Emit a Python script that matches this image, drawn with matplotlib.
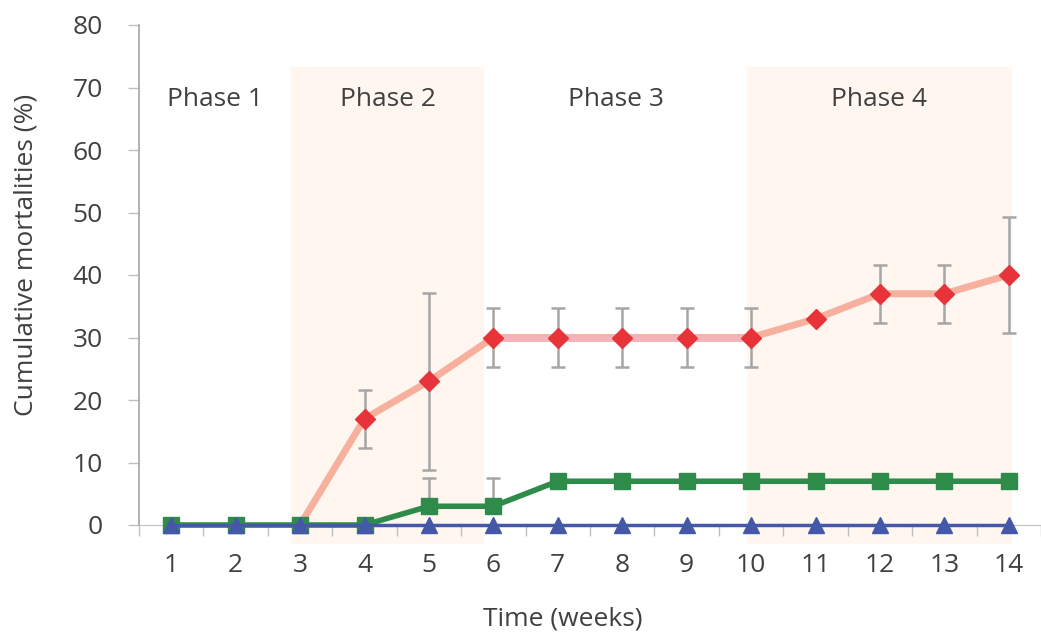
import matplotlib
matplotlib.use("Agg")
import matplotlib.pyplot as plt
import numpy as np

weeks = list(range(1, 15))
red_vals = [0, 0, 0, 17, 23, 30, 30, 30, 30, 30, 33, 37, 37, 40]
red_err = [0, 0, 0, 4.6, 14.2, 4.7, 4.7, 4.7, 4.7, 4.7, 0, 4.6, 4.6, 9.3]
green_vals = [0, 0, 0, 0, 3, 3, 7, 7, 7, 7, 7, 7, 7, 7]
green_err_up = [0, 0, 0, 0, 4.5, 4.5, 0, 0, 0, 0, 0, 0, 0, 0]
blue_vals = [0] * 14

phase_labels = ["Phase 1", "Phase 2", "Phase 3", "Phase 4"]
phase_bounds = [0.5, 2.86, 5.86, 9.93, 14.05]
phase_shaded = [False, True, False, True]
phase_top = 73.3
phase_bottom = -3.0
label_y = 68

plt.rcParams['font.family'] = ['Open Sans', 'DejaVu Sans']

fig = plt.figure(figsize=(10.41, 6.42), dpi=100)
ax = fig.add_axes([139/1041, (642-525)/642, (1041-139)/1041, 500/642])

# phase shading
for i, lab in enumerate(phase_labels):
    x0, x1 = phase_bounds[i], phase_bounds[i+1]
    if phase_shaded[i]:
        ax.fill_between([x0, x1], phase_bottom, phase_top, color='#FEF6EF',
                        zorder=0, clip_on=False, linewidth=0)
    ax.text((x0 + x1) / 2, label_y, lab, ha='center', va='center',
            fontsize=19, color='#404040', zorder=5)

ecol = '#A6A6A6'
w = np.array(weeks)
r = np.array(red_vals)
re = np.array(red_err)
mask = re > 0
ax.errorbar(w[mask], r[mask], yerr=re[mask], fmt='none', ecolor=ecol,
            elinewidth=1.8, capsize=5, capthick=1.8, zorder=2)
g = np.array(green_vals)
ge = np.array(green_err_up)
gm = ge > 0
ax.errorbar(w[gm], g[gm], yerr=[np.zeros(gm.sum()), ge[gm]], fmt='none',
            ecolor=ecol, elinewidth=1.8, capsize=5, capthick=1.8, zorder=2)

# red line (starting where it rises)
ax.plot(w[2:], r[2:], color='#F8B09E', lw=5, zorder=3, solid_capstyle='butt')
ax.plot(w[5:10], r[5:10], color='#F5B3B7', lw=5, zorder=3.1)
ax.plot(w[3:], r[3:], ls='none', marker='D', ms=10, color='#E8333A',
        mec='#E8333A', zorder=4)

# green
ax.plot(w, g, color='#2E8B4A', lw=4, marker='s', ms=11, zorder=5,
        clip_on=False)
# blue
ax.plot(w, blue_vals, color='#4558A8', lw=2.5, marker='^', ms=11, zorder=6,
        clip_on=False)

ax.set_xlim(0.5, 0.5 + 902/64.6)
ax.set_ylim(0, 80)
ax.set_xticks(weeks)
ax.set_xticks(np.arange(0.5, 15, 1), minor=True)
ax.tick_params(axis='x', which='major', length=0, pad=20, labelsize=19,
               labelcolor='#404040')
ax.tick_params(axis='x', which='minor', length=8, width=1, color='#BFBFBF',
               direction='out')
ax.set_yticks(range(0, 81, 10))
ax.tick_params(axis='y', length=8, width=1, color='#BFBFBF', pad=18,
               labelsize=19, labelcolor='#404040')

for s in ['top', 'right']:
    ax.spines[s].set_visible(False)
ax.spines['left'].set_color('#A6A6A6')
ax.spines['bottom'].set_color('#BFBFBF')
ax.spines['left'].set_linewidth(1.2)

fig.text(563/1041, 1 - 619/642, "Time (weeks)", ha='center', va='center',
         fontsize=19, color='#404040')
fig.text(26/1041, 1 - 255/642, "Cumulative mortalities (%)", ha='center',
         va='center', rotation=90, fontsize=19, color='#404040')

fig.savefig("out.png", dpi=100)
